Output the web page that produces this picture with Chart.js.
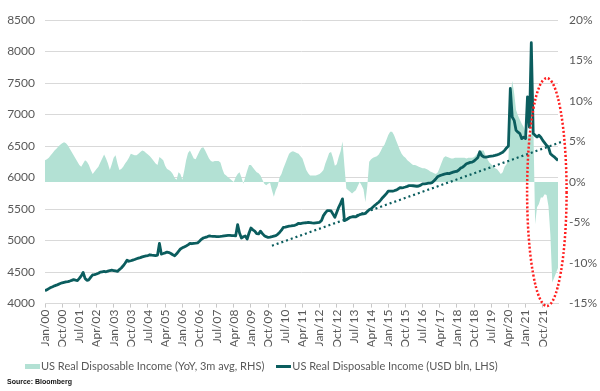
<!DOCTYPE html>
<html><head><meta charset="utf-8">
<script src="https://cdn.jsdelivr.net/npm/chart.js@4.4.1/dist/chart.umd.min.js"></script>
<style>
html,body{margin:0;padding:0;background:#fff;}
#wrap{position:relative;width:600px;height:391px;overflow:hidden;}
#source{position:absolute;left:7px;top:378px;font:bold 7px "Liberation Sans Narrow","Liberation Sans",Arial,sans-serif;color:#111;white-space:nowrap;}
</style></head><body>
<div id="wrap"><canvas id="c" width="600" height="391"></canvas><div id="source">Source: Bloomberg</div></div>
<script>
// ---- data (monthly, starting Jan 2000) ----
const startYear = 2000;
const monthNames = ['Jan','Feb','Mar','Apr','May','Jun','Jul','Aug','Sep','Oct','Nov','Dec'];

// US Real Disposable Income, USD bln (LHS)
const incomeLevel = [
  4205,4220,4238,4255,4268,4282,4292,4305,4318,4330,4338,4345,
  4350,4358,4368,4380,4372,4365,4400,4440,4494,4400,4370,4378,
  4420,4455,4460,4470,4482,4500,4505,4510,4505,4515,4525,4530,
  4525,4518,4510,4540,4565,4600,4640,4690,4672,4680,4690,4700,
  4712,4722,4730,4742,4750,4756,4762,4775,4770,4766,4762,4770,
  4955,4786,4795,4805,4818,4810,4795,4775,4760,4790,4830,4866,
  4885,4900,4915,4932,4955,4950,4955,4958,4962,4990,5020,5041,
  5050,5060,5073,5070,5068,5066,5062,5063,5066,5070,5075,5080,
  5083,5082,5080,5078,5075,5253,5120,5041,5060,5073,5025,5120,
  5200,5170,5150,5110,5105,5150,5110,5078,5062,5050,5055,5062,
  5070,5078,5100,5130,5165,5210,5215,5222,5228,5232,5237,5242,
  5255,5274,5270,5276,5280,5283,5290,5286,5280,5278,5282,5286,
  5290,5320,5396,5440,5476,5476,5470,5420,5370,5450,5528,5590,
  5662,5317,5330,5350,5370,5375,5380,5378,5395,5412,5420,5423,
  5432,5460,5490,5505,5532,5560,5585,5608,5642,5680,5712,5745,
  5783,5786,5783,5790,5800,5815,5838,5838,5842,5850,5860,5873,
  5873,5870,5866,5862,5866,5880,5900,5900,5905,5910,5912,5920,
  5950,5982,6017,6030,6040,6050,6060,6065,6062,6075,6085,6095,
  6100,6120,6150,6165,6190,6219,6230,6240,6245,6262,6290,6320,
  6410,6350,6330,6324,6330,6335,6340,6345,6352,6360,6370,6385,
  6400,6431,6470,6500,7413,6961,6908,6749,6720,6697,6617,6640,
  6620,7280,6800,8139,6700,6670,6643,6670,6640,6590,6550,6510,
  6484,6378,6352,6330,6300,6272
];

// US Real Disposable Income YoY, 3m avg, % (RHS)
const yoyAvg = [
  2.7,2.8,3.0,3.3,3.6,3.9,4.1,4.4,4.6,4.8,4.9,4.8,
  4.5,4.1,3.7,3.3,2.9,2.5,2.1,1.9,2.3,2.7,2.5,2.1,
  1.5,1.0,1.3,1.6,1.9,2.4,2.9,3.4,2.9,2.3,1.5,2.2,
  3.0,3.3,2.3,1.5,1.6,1.9,2.3,2.6,3.0,3.5,3.4,3.3,
  3.3,3.5,3.7,3.9,3.8,3.6,3.4,3.2,2.9,2.6,2.3,2.1,
  3.1,2.9,2.7,2.0,1.6,1.5,1.3,1.0,0.5,0.3,1.2,1.0,
  0.3,1.4,2.7,3.6,3.9,3.4,2.9,2.8,3.3,3.8,4.2,4.3,
  3.9,3.4,2.9,2.6,2.5,2.6,2.6,2.6,2.4,1.6,1.0,0.8,
  0.6,0.4,0.2,0.0,0.6,1.0,1.2,0.6,-0.2,0.6,1.4,2.1,
  2.1,1.8,1.5,1.2,1.1,0.8,0.3,-0.2,-0.4,-0.2,-0.1,-1.0,
  -1.8,-1.0,-0.5,0.6,1.0,1.7,2.3,2.9,3.5,3.7,3.8,3.7,
  3.6,3.5,3.2,2.9,2.2,1.5,1.1,0.8,0.8,0.8,0.8,0.9,
  1.0,1.2,1.5,2.3,2.9,3.6,3.7,3.0,2.0,2.2,3.1,3.8,
  5.0,2.0,-0.8,-1.0,-1.2,-1.4,-1.2,-1.0,-0.5,0.0,-0.4,-0.9,
  -2.5,-0.5,2.5,2.8,3.0,3.1,3.2,3.4,3.8,4.3,4.6,5.2,
  5.8,6.2,6.2,5.8,5.2,4.6,4.0,3.5,3.2,3.0,2.7,2.5,
  2.3,2.1,2.1,2.0,1.9,1.8,1.7,1.7,1.6,1.5,1.3,1.2,
  1.1,1.0,1.2,1.8,2.4,3.0,3.2,3.1,3.0,2.9,2.9,3.0,
  3.0,3.0,3.0,3.0,3.0,2.9,3.0,3.0,3.0,3.1,3.3,3.6,
  3.9,3.9,3.9,3.3,2.8,2.4,2.2,1.9,1.7,1.6,1.3,1.0,
  1.2,1.9,2.2,2.7,10.2,12.5,11.0,8.9,8.2,7.7,7.2,6.8,
  6.0,5.6,5.8,6.0,8.1,-5.2,-3.1,-2.7,-1.9,-1.9,-1.5,-1.6,
  -3.0,-6.5,-12.4,-11.8,-11.2,-10.6
];

// dotted trend line endpoints: [month index, USD bln]
const trendLine = [[119, 4918], [271.6, 6574]];

// x-axis tick labels
const tickLabels = ['Jan/00','Oct/00','Jul/01','Apr/02','Jan/03','Oct/03','Jul/04','Apr/05','Jan/06','Oct/06',
  'Jul/07','Apr/08','Jan/09','Oct/09','Jul/10','Apr/11','Jan/12','Oct/12','Jul/13','Apr/14',
  'Jan/15','Oct/15','Jul/16','Apr/17','Jan/18','Oct/18','Jul/19','Apr/20','Jan/21','Oct/21'];
const leftTicks = [4000, 8500, 500];   // min, max, step
const rightTicks = [-15, 20, 5];

// highlighted window (red dotted ellipse), in data units
const highlightWindow = { fromMonth: 252.8, toMonth: 273.5, low: 3963, high: 7577 };

// ---- helpers ----
const monthIndexOf = lbl => { const [m, y] = lbl.split('/'); return (2000 + Number(y) - startYear) * 12 + monthNames.indexOf(m); };
const tickMonths = tickLabels.map(monthIndexOf);

const AREA = '#b3e1d4', LINE = '#0b5d5e', TXT = '#595959', GRID = '#d9d9d9';
function swatch(w, h, color) { const c = document.createElement('canvas'); c.width = w; c.height = h; const g = c.getContext('2d'); g.fillStyle = color; g.fillRect(0, 0, w, h); return c; }
const areaSwatch = swatch(15, 5, AREA), lineSwatch = swatch(15, 3, LINE);

const highlightPlugin = {
  id: 'highlight',
  afterDatasetsDraw(chart) {
    const { ctx, scales: { x, yL } } = chart;
    const x0 = x.getPixelForValue(highlightWindow.fromMonth), x1 = x.getPixelForValue(highlightWindow.toMonth);
    const y0 = yL.getPixelForValue(highlightWindow.high), y1 = yL.getPixelForValue(highlightWindow.low);
    ctx.save();
    ctx.beginPath();
    ctx.ellipse((x0 + x1) / 2, (y0 + y1) / 2, (x1 - x0) / 2, (y1 - y0) / 2, 0, 0, Math.PI * 2);
    ctx.setLineDash([2, 2]);
    ctx.lineWidth = 2.5;
    ctx.strokeStyle = '#ff1f1f';
    ctx.stroke();
    ctx.restore();
  }
};
// indent the legend row from the canvas edge and nudge it up, as in the reference
const legendIndent = {
  id: 'legendIndent',
  afterLayout(chart) { const lg = chart.legend; if (lg) { lg.left += 13; lg.right += 13; lg.top -= 2.5; lg.bottom -= 2.5; } }
};

const tickFont = { family: 'Lato', size: 12 };
new Chart(document.getElementById('c'), {
  type: 'line',
  data: {
    datasets: [
      { label: 'US Real Disposable Income (YoY, 3m avg, RHS)', data: yoyAvg.map((v, i) => ({ x: i, y: v })), yAxisID: 'yR',
        fill: 'origin', backgroundColor: AREA, borderWidth: 0, borderColor: AREA, pointRadius: 0, tension: 0, order: 3, pointStyle: areaSwatch },
      { label: 'US Real Disposable Income (USD bln, LHS)', data: incomeLevel.map((v, i) => ({ x: i, y: v })), yAxisID: 'yL',
        fill: false, borderColor: LINE, backgroundColor: LINE, borderWidth: 2.8, pointRadius: 0, tension: 0, order: 1, pointStyle: lineSwatch, borderJoinStyle: 'round' },
      { label: 'trend', data: trendLine.map(([m, v]) => ({ x: m, y: v })), yAxisID: 'yL',
        fill: false, borderColor: LINE, borderWidth: 2.2, borderDash: [2, 3], pointRadius: 0, order: 2, clip: false }
    ]
  },
  options: {
    responsive: false, animation: false, events: [],
    layout: { padding: { left: 0, right: 0, top: 20, bottom: 7 } },
    plugins: {
      legend: { position: 'bottom', align: 'start',
        labels: { usePointStyle: true, pointStyleWidth: 6, padding: 16.5, color: TXT, font: { family: 'Lato', size: 11 },
          filter: item => item.datasetIndex < 2, sort: (a, b) => a.datasetIndex - b.datasetIndex } },
      tooltip: { enabled: false }, title: { display: false }
    },
    scales: {
      x: { type: 'linear', min: 0, max: incomeLevel.length - 1,
        afterBuildTicks: s => { s.ticks = tickMonths.map(v => ({ value: v })); },
        afterFit: s => { s.height = 42.9; },
        ticks: { callback: (v, i) => tickLabels[i], minRotation: 90, maxRotation: 90, autoSkip: false, padding: 2, color: TXT, font: tickFont },
        grid: { drawOnChartArea: false, drawTicks: true, tickLength: 4, color: '#c8c8c8' },
        border: { display: true, color: GRID } },
      yL: { position: 'left', min: leftTicks[0], max: leftTicks[1],
        afterFit: s => { s.width = 45; },
        ticks: { stepSize: leftTicks[2], padding: 10, color: TXT, font: tickFont, callback: v => String(v) },
        grid: { color: GRID, drawTicks: false }, border: { display: false } },
      yR: { position: 'right', min: rightTicks[0], max: rightTicks[1],
        afterFit: s => { s.width = 42; },
        ticks: { stepSize: rightTicks[2], padding: 11, color: TXT, font: tickFont, callback: v => v + '%' },
        grid: { display: false, drawTicks: false }, border: { display: false } }
    }
  },
  plugins: [highlightPlugin, legendIndent]
});
</script>
</body></html>
